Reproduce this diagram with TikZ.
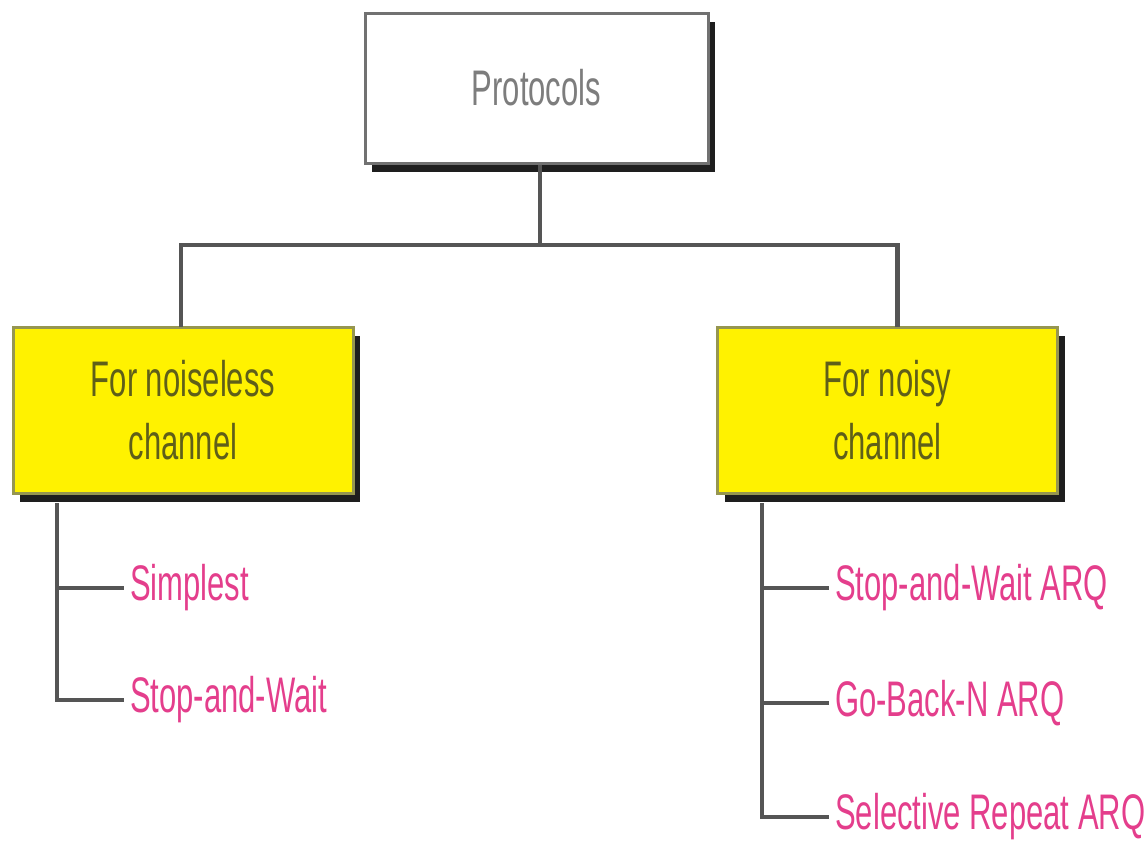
\documentclass[tikz,border=0pt]{standalone}
\usepackage{fontspec}
\newfontfamily\cond[FakeStretch=0.62]{Liberation Sans}
\definecolor{pinktxt}{RGB}{228,62,140}
\definecolor{linegray}{RGB}{85,85,85}
\definecolor{boxtxt}{RGB}{95,95,25}
\definecolor{protxt}{RGB}{125,125,125}
\definecolor{olivebd}{RGB}{150,150,80}
\definecolor{shadowc}{RGB}{30,30,30}
\begin{document}
\begin{tikzpicture}[x=1pt,y=-1pt,
  topbox/.style={draw=protxt!90!black,line width=3pt,fill=white,minimum width=343pt,minimum height=150pt,
     font=\cond\fontsize{50}{62}\selectfont,text=protxt,align=center,
     preaction={fill=shadowc,transform canvas={xshift=7pt,yshift=-9pt}}},
  ybox/.style={draw=olivebd,line width=3pt,fill=yellow,minimum width=340pt,minimum height=166pt,
     font=\cond\fontsize{50}{63}\selectfont,text=boxtxt,align=center,
     preaction={fill=shadowc,transform canvas={xshift=7pt,yshift=-9pt}}},
  leaf/.style={anchor=west,inner sep=6pt,font=\cond\fontsize{50}{60}\selectfont,text=pinktxt},
  conn/.style={draw=linegray,line width=4.5pt}]
\useasboundingbox (0,0) rectangle (1146,846);
\node[topbox] (P) at (536.5,88) {Protocols};
\node[ybox] (L) at (183,410) {For noiseless\\channel};
\node[ybox] (R) at (887.5,410) {For noisy\\channel};
\coordinate (J) at (540,245);
\draw[conn] (P.south -| J) -- (J);
\draw[conn] (J) -| ([xshift=-2pt,yshift=-1pt]L.north);
\draw[conn] (J) -| ([xshift=10pt,yshift=-1pt]R.north);
% left leaves
\node[leaf] (S1) at (124,588) {Simplest};
\node[leaf] (S2) at (124,700) {Stop-and-Wait};
\coordinate (Lt) at (57,503);
\draw[conn] (Lt) -- (Lt |- S2.west) -- (S2.west);
\draw[conn] (Lt |- S1.west) -- (S1.west);
% right leaves
\node[leaf] (N1) at (829,588) {Stop-and-Wait ARQ};
\node[leaf] (N2) at (829,703) {Go-Back-N ARQ};
\node[leaf] (N3) at (829,817) {Selective Repeat ARQ};
\coordinate (Rt) at (762,503);
\draw[conn] (Rt) -- (Rt |- N3.west) -- (N3.west);
\draw[conn] (Rt |- N1.west) -- (N1.west);
\draw[conn] (Rt |- N2.west) -- (N2.west);
\end{tikzpicture}
\end{document}
